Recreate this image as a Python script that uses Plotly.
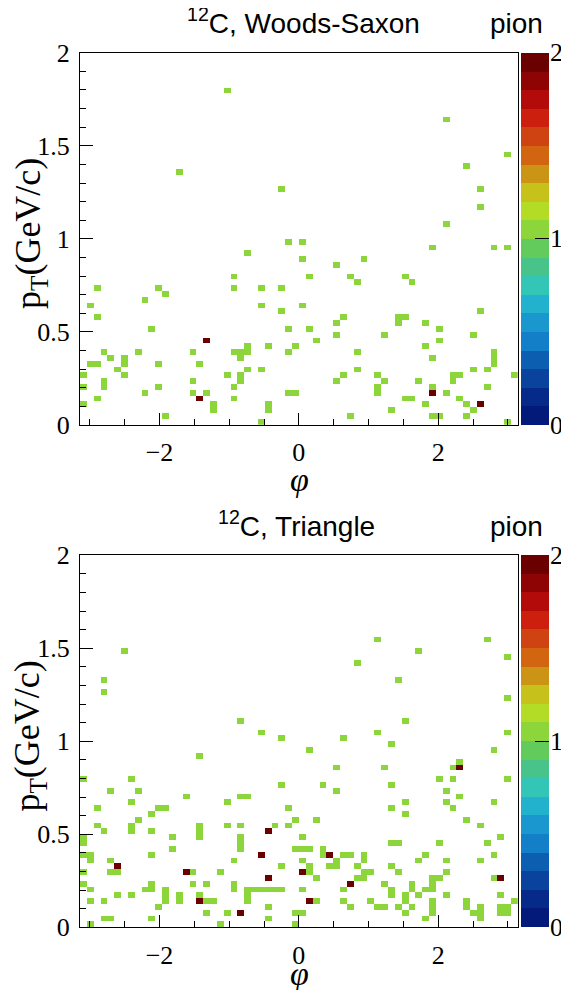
import numpy as np
import plotly.graph_objects as go

# ---------------- data: one entry per particle (phi, pT) ----------------
# 12C, Woods-Saxon
ws_phi = [-1.03, -1.72, -0.25, 2.11, 2.99, 2.40, 2.60, 2.60, 2.11, -0.15,
          -0.74, -0.93, -2.90, -2.01, -0.93, -0.54, -0.25, -1.91, -2.21, -2.99,
          -0.54, -2.90, -0.25, -2.11, -0.15, -1.33, -0.74, -0.44, -0.05, -2.80,
          -2.31, -1.52, -0.93, -0.83, -0.74, -0.15, -2.70, -2.50, -0.83, -2.99,
          -2.90, -2.50, -2.01, -1.42, -2.60, -0.74, -0.54, -3.09, -2.50, -1.03,
          -0.83, -2.80, -1.52, -0.83, -3.09, -2.80, -2.01, -0.93, -2.21, -1.52,
          -1.33, -0.15, -2.90, -1.42, -0.93, -3.09, -1.23, -1.23, -0.44, -0.44,
          -1.91, -0.54, 0.05, 1.91, 2.80, 2.99, 0.05, 0.54, 0.93, 0.15,
          0.74, 0.83, 1.52, 1.62, 0.05, 2.60, 0.64, 0.54, 1.42, 1.52,
          1.42, 1.82, 0.15, 2.01, 0.54, 1.23, 2.50, 0.25, 2.01, 1.82,
          0.83, 2.80, 2.80, 2.80, 1.91, 0.83, 2.50, 2.70, 0.64, 1.13,
          2.21, 2.31, 3.09, 0.54, 1.23, 1.72, 2.21, 1.13, 1.13, 1.91,
          2.70, -0.05, 1.91, 2.11, 1.52, 1.62, 2.31, 1.82, 2.40, 2.60,
          1.33, 2.50, 0.74, 1.91, 2.01, 2.40, 2.99,
          # second entries in already filled cells
          -1.33, -1.42, 1.91, 2.60]
ws_pt = [1.797, 1.359, 1.266, 1.641, 1.453, 1.391, 1.266, 1.172, 1.078, 0.984,
         0.922, 0.797, 0.734, 0.734, 0.734, 0.734, 0.734, 0.703, 0.672, 0.641,
         0.641, 0.578, 0.609, 0.516, 0.516, 0.453, 0.422, 0.422, 0.422, 0.391,
         0.391, 0.391, 0.391, 0.391, 0.391, 0.391, 0.359, 0.359, 0.359, 0.328,
         0.328, 0.328, 0.328, 0.328, 0.297, 0.297, 0.297, 0.266, 0.266, 0.266,
         0.266, 0.234, 0.234, 0.234, 0.203, 0.203, 0.203, 0.203, 0.172, 0.172,
         0.172, 0.172, 0.141, 0.141, 0.141, 0.109, 0.109, 0.078, 0.109, 0.078,
         0.047, 0.016, 0.984, 0.953, 0.953, 0.953, 0.891, 0.859, 0.891, 0.797,
         0.797, 0.766, 0.797, 0.766, 0.641, 0.609, 0.578, 0.547, 0.578, 0.578,
         0.547, 0.547, 0.516, 0.516, 0.484, 0.484, 0.484, 0.453, 0.453, 0.422,
         0.391, 0.391, 0.359, 0.328, 0.359, 0.297, 0.297, 0.297, 0.266, 0.266,
         0.266, 0.266, 0.266, 0.234, 0.234, 0.234, 0.234, 0.203, 0.172, 0.203,
         0.203, 0.172, 0.172, 0.172, 0.141, 0.141, 0.141, 0.109, 0.109, 0.109,
         0.078, 0.078, 0.047, 0.047, 0.047, 0.047, 0.016,
         0.453, 0.141, 0.172, 0.109]

# 12C, Triangle
tri_phi = [-2.50, -2.80, -2.80, -0.83, -0.54, -0.25, 1.13, 2.70, 1.72, 2.99,
           0.83, 1.42, 2.99, 1.52, 1.13, 2.99, 0.64, -1.42, -3.09, -2.40,
           -0.25, -2.70, -2.31, -1.62, -0.83, -0.74, -2.40, -1.03, -2.90, -2.01,
           -1.91, -0.15, -2.11, -2.31, -0.05, -2.90, -2.40, -2.40, -1.42, -1.42,
           -1.42, -1.03, -0.83, -0.34, -0.15, -2.80, -2.11, -0.44, -3.09, -3.09,
           -1.82, -0.83, -0.83, -0.83, -1.82, -0.05, -3.09, -2.99, -2.99, -2.11,
           -0.54, -2.70, -0.93, -2.60, -0.25, -3.09, -2.70, -2.60, -1.62, -1.52,
           -1.13, -0.44, -3.09, -2.11, -1.52, -1.33, -0.93, -2.99, -2.21, -2.11,
           -1.91, -0.93, -0.74, -0.64, -0.54, -0.44, -0.34, -0.25, -2.99, -2.80,
           -2.60, -2.40, -1.91, -1.91, -1.72, -1.72, -1.42, -1.42, -1.33, -1.23,
           -0.74, -0.74, -2.01, -0.44, -1.33, -1.03, -0.83, -0.05, -2.80, -2.70,
           -2.11, -0.44, -2.99, -1.13, -0.05, 1.33, 0.15, 2.80, 0.54, 1.23,
           2.31, 2.21, 2.31, 2.01, 2.21, 2.99, 0.34, 1.33, 0.54, 2.11,
           2.31, 1.52, 2.11, 2.80, 1.33, 2.21, 1.52, 0.25, 2.40, 2.60,
           0.05, 2.90, 0.05, 0.15, 0.34, 0.34, 1.33, 1.42, 2.01, 2.70,
           0.44, 0.64, 0.74, 0.93, 0.93, 1.82, 2.80, 0.05, 0.54, 0.54,
           0.44, 0.15, 0.15, 0.83, 1.33, 1.72, 2.11, 2.60, 0.05, 0.93,
           1.03, 1.42, 2.11, 0.25, 0.83, 0.93, 1.91, 2.01, 2.80, 2.90,
           0.74, 1.23, 1.62, 1.62, 1.91, 1.91, 1.82, 0.05, 0.64, 1.33,
           1.33, 1.52, 1.52, 1.72, 2.11, 2.90, 0.15, 0.25, 0.64, 1.03,
           1.91, 1.91, 1.91, 2.40, 2.40, 3.09, 0.74, 1.13, 1.23, 1.42,
           1.62, 2.60, 2.60, 2.60, 2.90, 2.99, 2.90, 2.99, 0.05, 1.52, 2.50, 1.82,
           # second entries in already filled cells
           -0.44, -0.54, -2.60, -1.62, -0.44, -1.42, -0.83,
           2.31, 0.44, 0.05, 2.90, 0.74, 0.15]
tri_pt = [1.484, 1.328, 1.266, 1.109, 1.047, 1.016, 1.547, 1.547, 1.484, 1.453,
          1.422, 1.328, 1.234, 1.109, 1.047, 1.047, 1.016, 0.922, 0.797, 0.797,
          0.766, 0.734, 0.734, 0.703, 0.703, 0.703, 0.672, 0.672, 0.641, 0.641,
          0.641, 0.641, 0.609, 0.578, 0.578, 0.547, 0.547, 0.516, 0.547, 0.516,
          0.484, 0.547, 0.547, 0.547, 0.547, 0.516, 0.516, 0.516, 0.484, 0.453,
          0.484, 0.484, 0.453, 0.422, 0.422, 0.422, 0.391, 0.391, 0.359, 0.391,
          0.391, 0.359, 0.359, 0.328, 0.328, 0.297, 0.297, 0.297, 0.297, 0.297,
          0.297, 0.266, 0.234, 0.234, 0.234, 0.234, 0.234, 0.203, 0.203, 0.203,
          0.203, 0.203, 0.203, 0.203, 0.203, 0.203, 0.203, 0.203, 0.141, 0.141,
          0.172, 0.172, 0.172, 0.141, 0.172, 0.141, 0.172, 0.141, 0.141, 0.141,
          0.172, 0.141, 0.109, 0.109, 0.078, 0.078, 0.078, 0.078, 0.047, 0.047,
          0.047, 0.047, 0.016, 0.016, 0.016, 0.984, 0.953, 0.953, 0.859, 0.859,
          0.891, 0.859, 0.859, 0.797, 0.797, 0.797, 0.766, 0.766, 0.734, 0.734,
          0.703, 0.672, 0.672, 0.672, 0.641, 0.641, 0.609, 0.578, 0.578, 0.547,
          0.484, 0.484, 0.422, 0.422, 0.422, 0.391, 0.453, 0.453, 0.453, 0.453,
          0.391, 0.391, 0.391, 0.391, 0.359, 0.391, 0.391, 0.359, 0.359, 0.328,
          0.328, 0.328, 0.297, 0.328, 0.328, 0.359, 0.359, 0.359, 0.297, 0.297,
          0.297, 0.297, 0.297, 0.266, 0.266, 0.266, 0.266, 0.266, 0.266, 0.266,
          0.234, 0.234, 0.234, 0.203, 0.234, 0.203, 0.203, 0.203, 0.203, 0.203,
          0.172, 0.172, 0.141, 0.172, 0.172, 0.172, 0.141, 0.141, 0.141, 0.141,
          0.141, 0.109, 0.078, 0.141, 0.109, 0.141, 0.109, 0.109, 0.109, 0.109,
          0.109, 0.109, 0.078, 0.047, 0.109, 0.109, 0.078, 0.078, 0.078, 0.078, 0.078, 0.047,
          0.516, 0.391, 0.328, 0.297, 0.266, 0.141, 0.078,
          0.859, 0.391, 0.297, 0.266, 0.234, 0.141]

panel_titles = ["<sup>12</sup>C, Woods-Saxon", "<sup>12</sup>C, Triangle"]
particle = "pion"
x_tickvals = [-2, 0, 2]
z_tickvals = [0, 1, 2]

# ---------------- binning (64 x 64) ----------------
phi_edges = np.linspace(-np.pi, np.pi, 65)
pt_edges = np.linspace(0.0, 2.0, 65)
phi_c = 0.5 * (phi_edges[:-1] + phi_edges[1:])
pt_c = 0.5 * (pt_edges[:-1] + pt_edges[1:])


def counts(phi, pt):
    Hh, _, _ = np.histogram2d(pt, phi, bins=[pt_edges, phi_edges])
    z = Hh.astype(object)
    z[Hh == 0] = None
    return z.tolist()


# ROOT-like 20-level rainbow palette (bottom -> top)
bands = ["#041a7a", "#062a8a", "#09439e", "#0c5eb1", "#127fc8",
         "#1a97cf", "#22b2ce", "#33c5b6", "#48c48b", "#63cb5c",
         "#8cd63c", "#b2dc25", "#c7c21b", "#cc9414", "#d2650f",
         "#cf4313", "#cc1f0e", "#b30a0a", "#8e0303", "#6a0000"]
cs = []
for k, c in enumerate(bands):
    cs.append([k / 20, c])
    cs.append([(k + 1) / 20, c])

# the page body has an 8 px margin; the figure fills the rest of the window
OFF = 8
W, H = 569 - OFF, 990 - OFF


def fx(X):
    return (X - OFF) / W


def fy(Y):
    return 1 - (Y - OFF) / H


xl, xr = 80, 517.7
panels = [(52.7, 425.0), (555.3, 927.3)]

serif = "Liberation Serif"
sans = "Liberation Sans"
tfont = dict(family=serif, size=26, color="black")

fig = go.Figure()
annotations = []
for p, (phi, pt) in enumerate([(ws_phi, ws_pt), (tri_phi, tri_pt)]):
    top, bot = panels[p]
    ydom = [fy(bot), fy(top)]
    sfx = "" if p == 0 else "2"
    fig.add_trace(go.Heatmap(
        z=counts(phi, pt), x=phi_c, y=pt_c, zmin=0, zmax=2,
        colorscale=cs, xaxis="x" + sfx, yaxis="y" + sfx,
        hoverongaps=False,
        colorbar=dict(x=fx(521), xanchor="left", y=(ydom[0] + ydom[1]) / 2,
                      yanchor="middle", len=(bot - top) / H, lenmode="fraction",
                      thickness=28, thicknessmode="pixels", xpad=0, ypad=0,
                      outlinewidth=0, tickvals=z_tickvals, showticklabels=False,
                      ticks="inside", ticklen=14, tickcolor="black", tickwidth=1),
    ))
    common = dict(showgrid=False, zeroline=False, showline=True, linecolor="black",
                  linewidth=1.2, mirror=True, ticks="inside", tickcolor="black",
                  tickwidth=1, automargin=False, tickfont=tfont)
    fig.layout["xaxis" + sfx] = dict(
        domain=[fx(xl), fx(xr)], range=[-np.pi, np.pi], tickvals=x_tickvals,
        ticklen=12, anchor="y" + sfx, ticklabelstandoff=4,
        minor=dict(dtick=0.5, tick0=0, ticklen=6, ticks="inside", tickcolor="black"),
        **common)
    fig.layout["yaxis" + sfx] = dict(
        domain=ydom, range=[0, 2], dtick=0.5, tick0=0, ticklen=13,
        anchor="x" + sfx, ticklabelstandoff=4,
        minor=dict(dtick=0.1, tick0=0, ticklen=6, ticks="inside", tickcolor="black"),
        **common)
    off = top - 52.7
    title_x = [303, 296][p]
    phi_y = [479, 973][p]
    annotations += [
        dict(text=panel_titles[p], x=fx(title_x), y=fy(41 + off), xref="paper",
             yref="paper", xanchor="center", yanchor="bottom", showarrow=False,
             font=dict(family=sans, size=28, color="black")),
        dict(text=particle, x=fx(516), y=fy(41 + off), xref="paper",
             yref="paper", xanchor="center", yanchor="bottom", showarrow=False,
             font=dict(family=sans, size=28, color="black")),
        dict(text="<i>φ</i>", x=fx(299), y=fy(phi_y), xref="paper",
             yref="paper", xanchor="center", yanchor="middle", showarrow=False,
             font=dict(family=serif, size=34, color="black")),
        dict(text="p<sub>T</sub>(GeV/c)", x=fx(30), y=fy(234 + off),
             xref="paper", yref="paper", xanchor="center", yanchor="middle",
             textangle=-90, showarrow=False,
             font=dict(family=serif, size=36, color="black")),
    ]
    # colour-bar value labels (right of the bar)
    for v in z_tickvals:
        annotations.append(dict(
            text=str(v), x=fx(548), y=fy(bot - (bot - top) * v / 2),
            xref="paper", yref="paper", xanchor="left", yanchor="middle",
            showarrow=False, font=tfont))

fig.update_layout(width=W, height=H,
                  margin=dict(l=0, r=0, t=0, b=0, pad=0, autoexpand=False),
                  paper_bgcolor="white", plot_bgcolor="white",
                  showlegend=False, annotations=annotations)
fig.write_html("out.html")
